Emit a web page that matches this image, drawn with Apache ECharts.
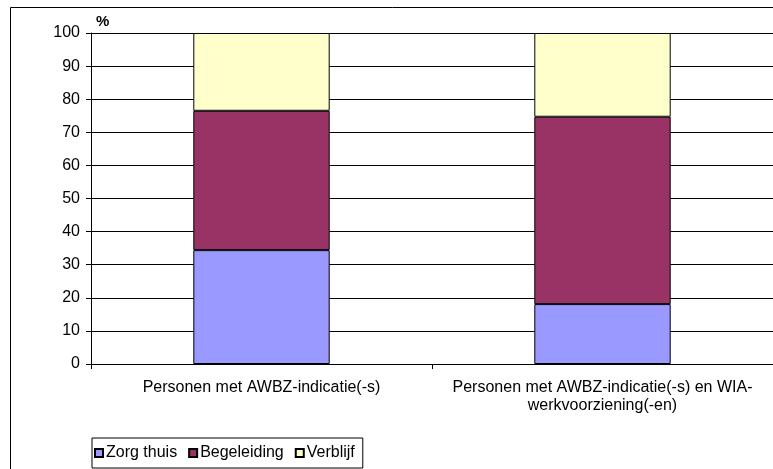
<!DOCTYPE html>
<html>
<head>
<meta charset="utf-8">
<script src="https://cdn.jsdelivr.net/npm/echarts@6/dist/echarts.min.js"></script>
<style>
  html, body { margin: 0; padding: 0; background: #fff; }
  #chart { width: 773px; height: 469px; }
</style>
</head>
<body>
<div id="chart"></div>
<script>
const categories = [
  'Personen met AWBZ-indicatie(-s)',
  'Personen met AWBZ-indicatie(-s) en WIA-\nwerkvoorziening(-en)'
];
const zorgThuis = [34.4, 18.1];
const begeleiding = [42.1, 56.6];
const verblijf = [23.5, 25.3];
const seriesNames = ['Zorg thuis', 'Begeleiding', 'Verblijf'];
const yTicks = { min: 0, max: 100, interval: 10 };

const font = '"Liberation Sans", Arial, sans-serif';
const fs = 16;
const chart = echarts.init(document.getElementById('chart'));

const barStyle = color => ({ color: color, borderColor: '#000', borderWidth: 1 });

chart.setOption({
  animation: false,
  textStyle: { fontFamily: font, color: '#000' },
  graphic: [
    // outer chart border (continues beyond the right/bottom edges)
    { type: 'rect', left: 8, top: 5, shape: { width: 820, height: 520 },
      style: { fill: 'none', stroke: '#000', lineWidth: 1 }, silent: true, z: -10 },
    { type: 'text', left: 96, top: 14,
      style: { text: '%', font: 'bold 15px ' + font, fill: '#000' } }
  ],
  grid: { left: 91, right: -2, top: 33, bottom: 105, containLabel: false },
  legend: {
    left: 92, top: 438,
    orient: 'horizontal',
    data: seriesNames,
    itemWidth: 8, itemHeight: 8, itemGap: 11,
    icon: 'rect',
    borderColor: '#000', borderWidth: 1,
    padding: [7, 8, 7, 2],
    textStyle: { fontSize: fs, color: '#000', fontFamily: font, padding: [0, 0, 0, -2] }
  },
  xAxis: {
    type: 'category',
    data: categories,
    axisLine: { lineStyle: { color: '#000', width: 1 } },
    axisTick: { show: true, length: 5, lineStyle: { color: '#000' } },
    axisLabel: { fontSize: fs, color: '#000', margin: 15, lineHeight: 18, interval: 0 }
  },
  yAxis: {
    type: 'value',
    min: yTicks.min, max: yTicks.max, interval: yTicks.interval,
    axisLine: { show: true, lineStyle: { color: '#000', width: 1 } },
    axisTick: { show: true, length: 5, lineStyle: { color: '#000' } },
    axisLabel: { fontSize: fs, color: '#000', margin: 11 },
    splitLine: { lineStyle: { color: '#000', width: 1 } }
  },
  series: [
    { name: seriesNames[0], type: 'bar', stack: 'a', barWidth: '40%', data: zorgThuis, itemStyle: barStyle('#9999ff') },
    { name: seriesNames[1], type: 'bar', stack: 'a', barWidth: '40%', data: begeleiding, itemStyle: barStyle('#993366') },
    { name: seriesNames[2], type: 'bar', stack: 'a', barWidth: '40%', data: verblijf, itemStyle: barStyle('#ffffcc') }
  ]
});
</script>
</body>
</html>
